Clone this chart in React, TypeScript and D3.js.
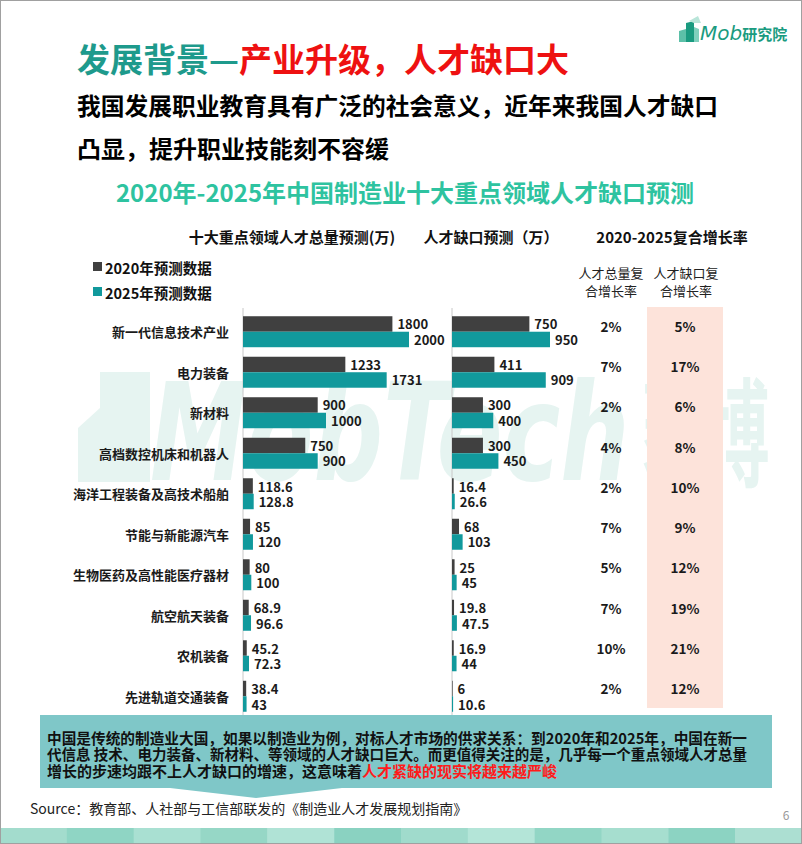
import React from 'react';
import * as d3 from 'd3';

const categories = [
  '新一代信息技术产业',
  '电力装备',
  '新材料',
  '高档数控机床和机器人',
  '海洋工程装备及高技术船舶',
  '节能与新能源汽车',
  '生物医药及高性能医疗器材',
  '航空航天装备',
  '农机装备',
  '先进轨道交通装备',
];
const total2020 = [1800, 1233, 900, 750, 118.6, 85, 80, 68.9, 45.2, 38.4];
const total2025 = [2000, 1731, 1000, 900, 128.8, 120, 100, 96.6, 72.3, 43];
const gap2020 = [750, 411, 300, 300, 16.4, 68, 25, 19.8, 16.9, 6];
const gap2025 = [950, 909, 400, 450, 26.6, 103, 45, 47.5, 44, 10.6];
const totalCagr = ['2%', '7%', '2%', '4%', '2%', '7%', '5%', '7%', '10%', '2%'];
const gapCagr = ['5%', '17%', '6%', '8%', '10%', '9%', '12%', '19%', '21%', '12%'];
const seriesNames = ['2020年预测数据', '2025年预测数据'];
const columnHeaders = ['十大重点领域人才总量预测(万)', '人才缺口预测（万）', '2020-2025复合增长率'];

const FONT = '"Noto Sans CJK SC", "Noto Sans", sans-serif';
const DARK = '#404040';
const TEAL = '#11999c';

export default function App() {
  const W = 802;
  const H = 844;

  const y = d3
    .scaleBand<string>()
    .domain(categories)
    .range([311.5, 716.5])
    .paddingInner(0.235)
    .paddingOuter(0.117);
  const yRate = d3.scalePoint<string>().domain(categories).range([326, 688]);
  const xTotal = d3.scaleLinear().domain([0, 2000]).range([243, 409]);
  const xGap = d3.scaleLinear().domain([0, 950]).range([452, 550]);
  const bw = y.bandwidth();
  const bh = bw / 2;

  const stripColors = ['#a3dccd', '#8fd5c4', '#a9e0d2', '#96d7c6', '#b0e3d6', '#8ad2c1', '#a0dbcc', '#b4e5d8', '#92d6c5', '#a6decf', '#8cd3c2', '#acdfd2'];
  const stripX = d3.scaleBand<number>().domain(d3.range(stripColors.length)).range([0, W]);

  const bars = (x: d3.ScaleLinear<number, number>, a: number[], b: number[]) =>
    categories.map((c, i) => {
      const y0 = y(c) as number;
      return (
        <g key={c}>
          <rect x={x(0)} y={y0} width={x(a[i]) - x(0)} height={bh} fill={DARK} />
          <rect x={x(0)} y={y0 + bh} width={x(b[i]) - x(0)} height={bh} fill={TEAL} />
          <text x={x(a[i]) + 5} y={y0 + bh / 2} dominantBaseline="central" fontSize={13} fontWeight="bold" fill="#1a1a1a">
            {String(a[i])}
          </text>
          <text x={x(b[i]) + 5} y={y0 + bh * 1.5} dominantBaseline="central" fontSize={13} fontWeight="bold" fill="#1a1a1a">
            {String(b[i])}
          </text>
        </g>
      );
    });

  return (
    <svg width={W} height={H} style={{ position: 'absolute', left: 0, top: 0, background: '#fff' }} fontFamily={FONT}>
      <rect x={0} y={0} width={W} height={H} fill="#fff" />

      {/* watermark */}
      <g fill="#e6f4f1">
        <polygon points="78,482 78,428 100,408 100,372 150,372 150,482" />
        <text transform="translate(150,480) scale(0.72,1)" fontSize={135} fontWeight="bold" fontStyle="italic" fontFamily="'DejaVu Sans', sans-serif">
          MobTech
        </text>
        <text transform="translate(642,478) scale(0.54,1)" fontSize={118} fontWeight="bold">
          袤博
        </text>
      </g>

      {/* logo */}
      <g>
        <polygon points="679,42 679,31 686,29 686,42" fill="#5cc0a8" />
        <polygon points="686,42 686,23 694,21 694,42" fill="#1a9b80" />
        <polygon points="694,42 694,27 699,29 699,42" fill="#7fd0bd" />
        <polygon points="689,21 698,16 701,23 694,23" fill="#b9e5d9" />
        <text x={700} y={40} fill="#1a9b80">
          <tspan fontSize={20} fontStyle="italic" fontFamily="'DejaVu Sans', sans-serif">Mob</tspan>
          <tspan fontSize={15} fontWeight="bold">研究院</tspan>
        </text>
      </g>

      {/* title */}
      <text x={77} y={58} dominantBaseline="central" fontSize={33} fontWeight="bold">
        <tspan fill="#1e9a8c">发展背景—</tspan>
        <tspan fill="#ee1111">产业升级，人才缺口大</tspan>
      </text>
      <text x={77} y={104} dominantBaseline="central" fontSize={24} fontWeight="bold" fill="#000" textLength={641} lengthAdjust="spacingAndGlyphs">
        我国发展职业教育具有广泛的社会意义，近年来我国人才缺口
      </text>
      <text x={77} y={147} dominantBaseline="central" fontSize={24} fontWeight="bold" fill="#000">
        凸显，提升职业技能刻不容缓
      </text>

      {/* chart title */}
      <text x={405} y={191} textAnchor="middle" dominantBaseline="central" fontSize={24} fontWeight="bold" fill="#2ec3a0">
        2020年-2025年中国制造业十大重点领域人才缺口预测
      </text>

      {/* column headers */}
      <g fontSize={15} fontWeight="bold" fill="#111" dominantBaseline="central">
        <text x={292} y={236} textAnchor="middle">{columnHeaders[0]}</text>
        <text x={491} y={236} textAnchor="middle">{columnHeaders[1]}</text>
        <text x={672} y={236} textAnchor="middle">{columnHeaders[2]}</text>
      </g>

      {/* legend */}
      {seriesNames.map((s, i) => (
        <g key={s}>
          <rect x={93} y={262 + i * 25} width={9} height={9} fill={i === 0 ? DARK : TEAL} />
          <text x={105} y={267 + i * 25} dominantBaseline="central" fontSize={14.5} fontWeight="bold" fill="#111">
            {s}
          </text>
        </g>
      ))}

      {/* rate sub headers */}
      <g fontSize={13} fill="#222" textAnchor="middle" dominantBaseline="central">
        <text x={611} y={272}>人才总量复</text>
        <text x={611} y={290}>合增长率</text>
        <text x={686} y={272}>人才缺口复</text>
        <text x={686} y={290}>合增长率</text>
      </g>

      {/* pink column */}
      <rect x={647} y={307} width={76} height={401} fill="#fde3da" />

      {/* axis lines */}
      <line x1={xTotal(0)} x2={xTotal(0)} y1={308} y2={716} stroke="#c8c8c8" strokeWidth={1} />
      <line x1={xGap(0)} x2={xGap(0)} y1={308} y2={716} stroke="#c8c8c8" strokeWidth={1} />

      {/* category labels */}
      {categories.map((c) => (
        <text key={c} x={229} y={(y(c) as number) + bw / 2} textAnchor="end" dominantBaseline="central" fontSize={13} fontWeight="bold" fill="#1a1a1a">
          {c}
        </text>
      ))}

      {bars(xTotal, total2020, total2025)}
      {bars(xGap, gap2020, gap2025)}

      {/* rates */}
      {categories.map((c, i) => (
        <g key={c} fontSize={13.5} fontWeight="bold" fill="#1a1a1a" textAnchor="middle" dominantBaseline="central">
          <text x={611} y={yRate(c)}>{totalCagr[i]}</text>
          <text x={685} y={yRate(c)}>{gapCagr[i]}</text>
        </g>
      ))}

      {/* note box */}
      <path d="M40,715 L772,715 L772,788 L342,788 L256,798 L170,788 L40,788 Z" fill="#7fc7c8" />
      <g fontSize={15} fontWeight="bold" fill="#111">
        <text x={47} y={737} dominantBaseline="central" textLength={700} lengthAdjust="spacingAndGlyphs">
          中国是传统的制造业大国，如果以制造业为例，对标人才市场的供求关系：到2020年和2025年，中国在新一
        </text>
        <text x={47} y={753.5} dominantBaseline="central" textLength={700} lengthAdjust="spacingAndGlyphs">
          代信息 技术、电力装备、新材料、等领域的人才缺口巨大。而更值得关注的是，几乎每一个重点领域人才总量
        </text>
        <text x={47} y={770} dominantBaseline="central">
          增长的步速均跟不上人才缺口的增速，这意味着<tspan fill="#ff1a1a">人才紧缺的现实将越来越严峻</tspan>
        </text>
      </g>

      {/* source */}
      <text x={30} y={808} dominantBaseline="central" fontSize={14} fill="#222">
        Source：教育部、人社部与工信部联发的《制造业人才发展规划指南》
      </text>
      <text x={786} y={814} dominantBaseline="central" fontSize={12} fill="#999" textAnchor="middle">
        6
      </text>

      {/* bottom strip */}
      {stripColors.map((col, i) => (
        <rect key={i} x={stripX(i)} y={828} width={stripX.bandwidth() + 0.5} height={16} fill={col} />
      ))}

      {/* frame */}
      <rect x={0.5} y={0.5} width={W - 1} height={H - 1} fill="none" stroke="#a0a0a0" />
    </svg>
  );
}
